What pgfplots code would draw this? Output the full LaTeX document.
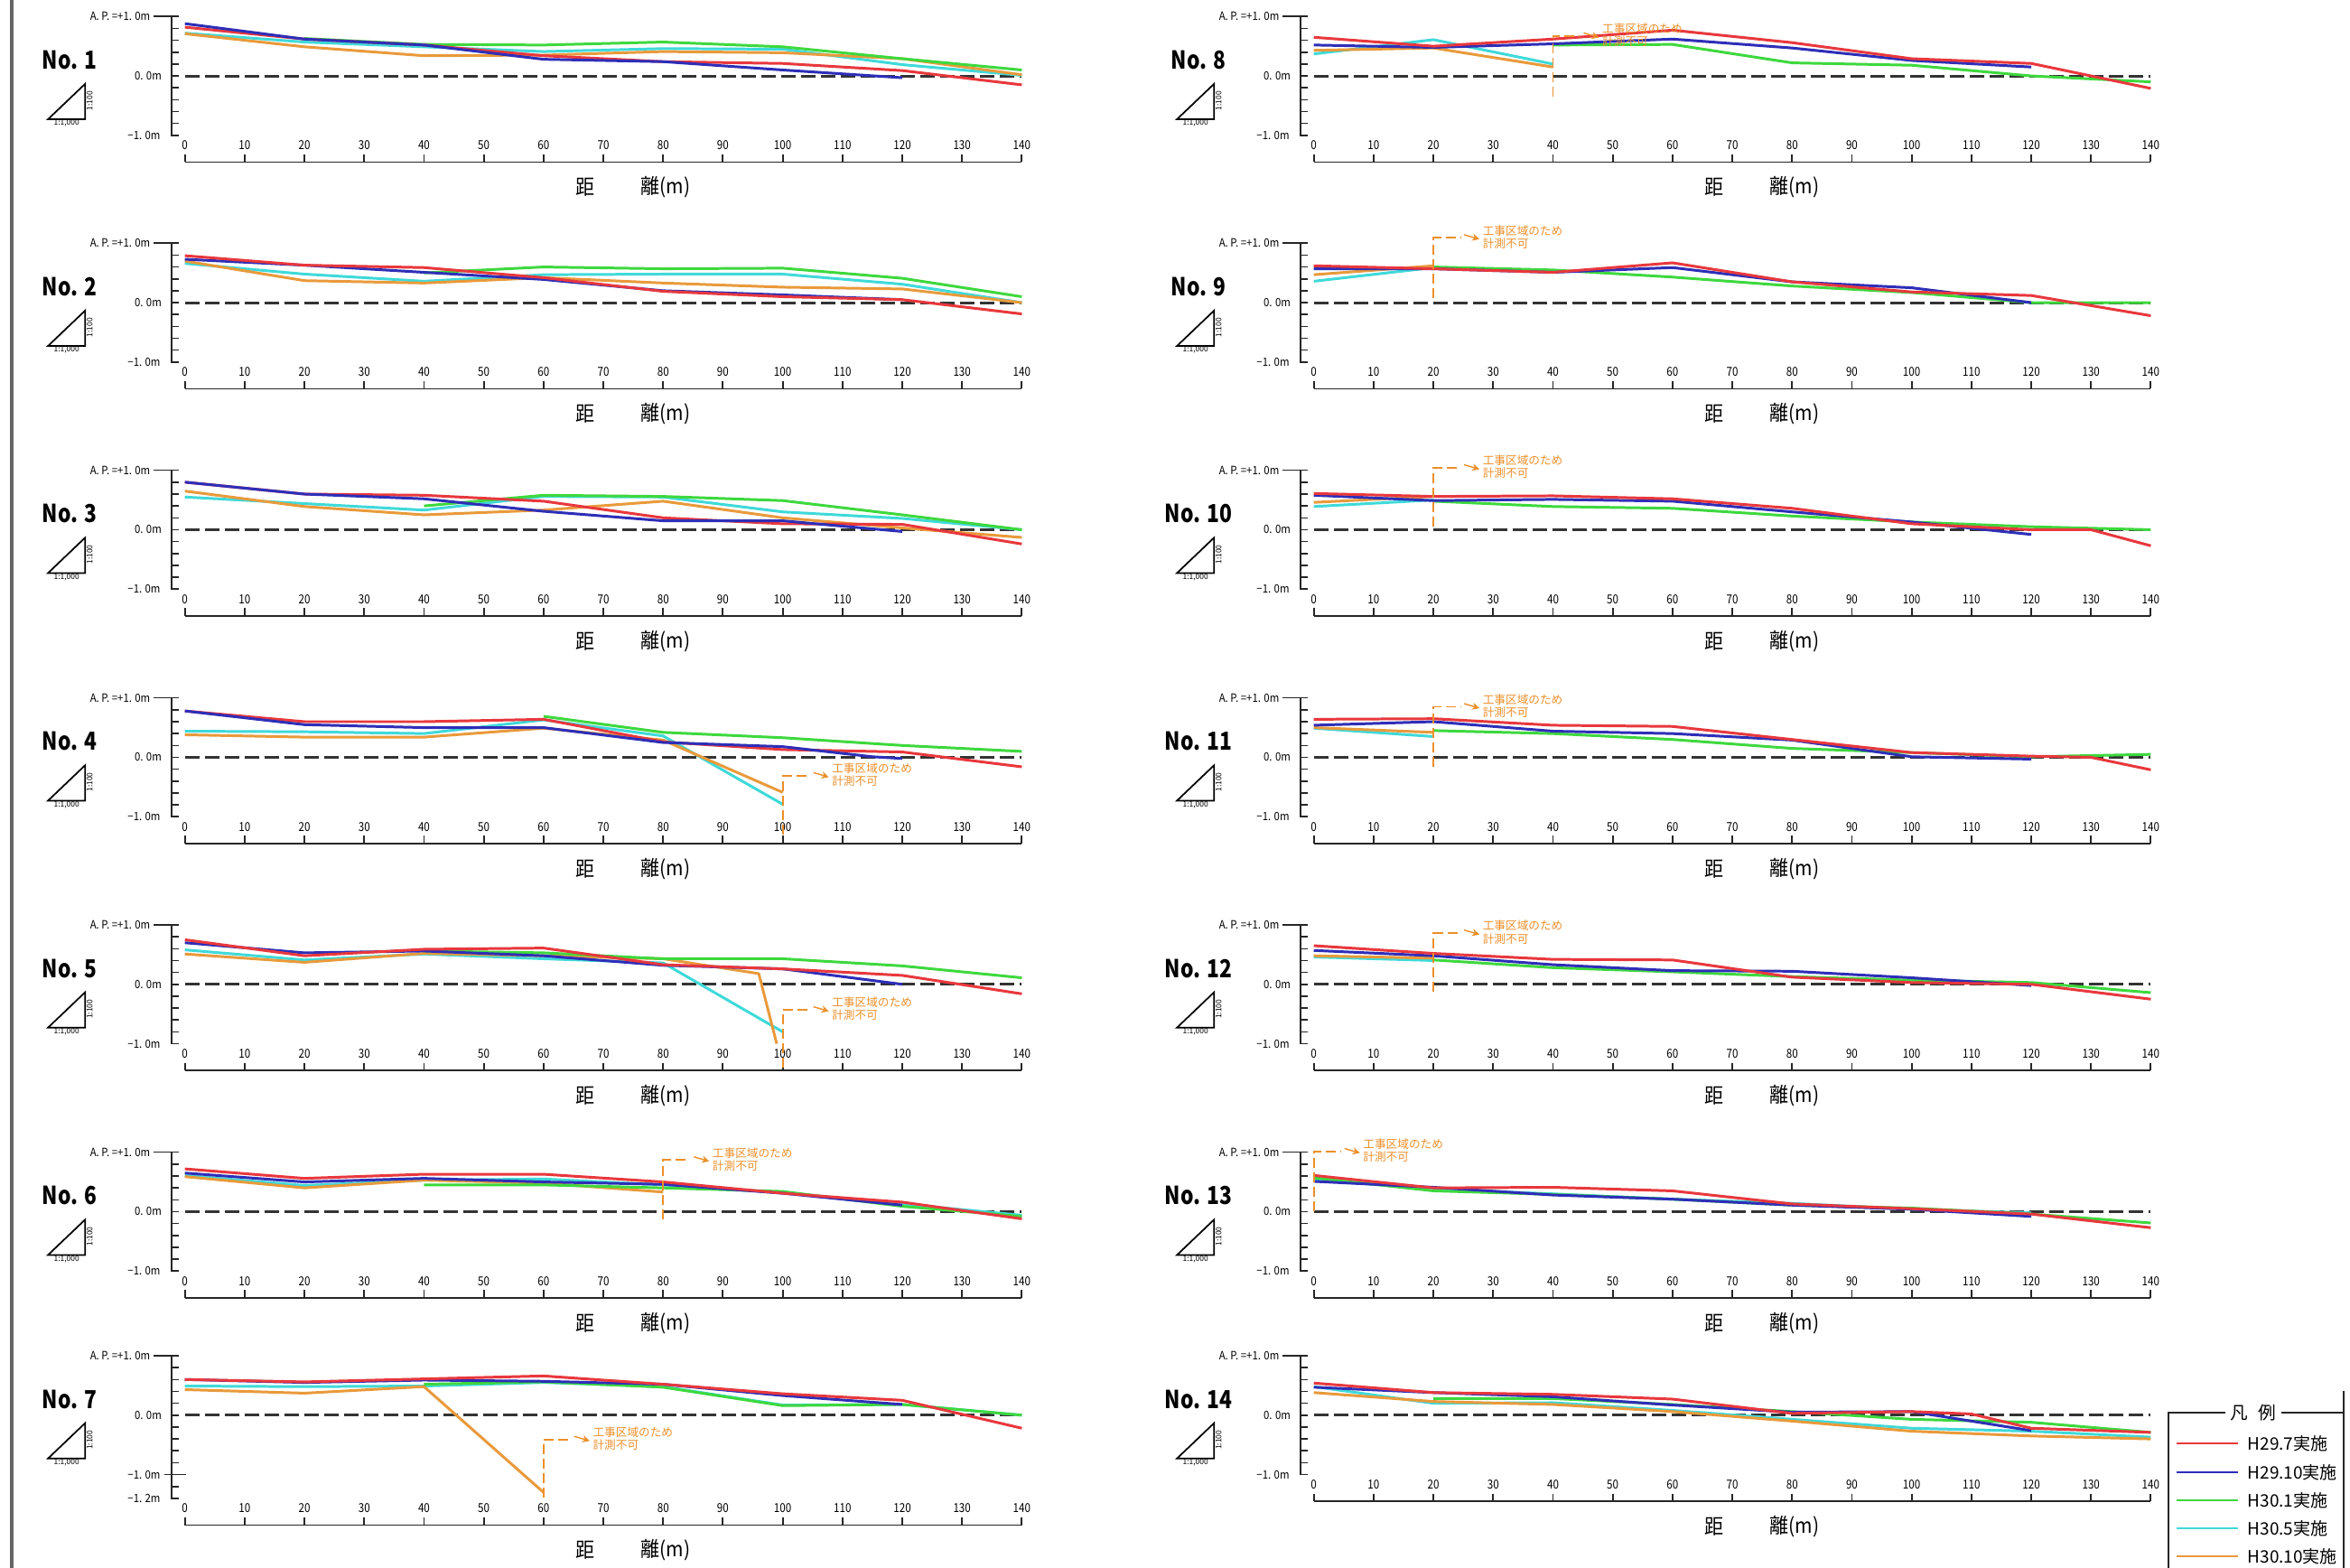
\documentclass[border=0pt]{standalone}
\usepackage{fontspec}
\setmainfont{Noto Sans CJK JP}
\usepackage{pgfplots}
\pgfplotsset{compat=1.18}
\usetikzlibrary{arrows.meta}
\definecolor{cR}{HTML}{E8383D}
\definecolor{cB}{HTML}{2E2EB8}
\definecolor{cG}{HTML}{3ED83E}
\definecolor{cC}{HTML}{3FD9D9}
\definecolor{cO}{HTML}{E99A3B}
\definecolor{cA}{HTML}{EB8F2A}
\tikzset{
 axl/.style={black!85, line width=0.45pt},
 zl/.style={black!80, line width=0.85pt, dash pattern=on 1.6mm off 0.6mm},
 annl/.style={cA, line width=0.5pt, dash pattern=on 1.1mm off 0.5mm},
 anntext/.style={anchor=west, align=left, text=cA, font=\fontsize{3.6}{4.0}\selectfont, inner sep=0pt},
 ylab/.style={anchor=east, font=\fontsize{3.6}{4}\selectfont, inner sep=0.3mm, xscale=0.9},
 xlab/.style={font=\fontsize{3.9}{4.5}\selectfont, inner sep=0pt, xscale=0.85},
 xtit/.style={font=\fontsize{6.5}{7}\selectfont, inner sep=0pt, xscale=0.92},
 nolab/.style={font=\fontsize{7.8}{8}\selectfont\bfseries, inner sep=0pt, xscale=0.83},
 tri/.style={font=\fontsize{2.4}{2.6}\selectfont, inner sep=0pt}
}
\pgfplotsset{
 panel/.style={hide axis, scale only axis, width=9.267cm, xmin=0, xmax=140, ymax=1, clip=false, anchor=north west},
 std/.style={panel, ymin=-1.45, height=1.612cm},
 tall/.style={panel, ymin=-1.85, height=1.875cm},
 sR/.style={cR, line width=0.85pt, line join=round},
 sB/.style={cB, line width=0.85pt, line join=round},
 sG/.style={cG, line width=0.85pt, line join=round},
 sC/.style={cC, line width=0.85pt, line join=round},
 sO/.style={cO, line width=0.85pt, line join=round}
}
\newcommand{\common}[1]{%
 \node[nolab] at (axis cs:-19.3,0.27) {#1};
 \draw[black, line width=0.5pt] (axis cs:-22.9,-0.73) -- (axis cs:-16.7,-0.135) -- (axis cs:-16.7,-0.73) -- cycle;
 \node[tri] at (axis cs:-19.8,-0.80) {1:1,000};
 \node[tri, rotate=90] at (axis cs:-15.9,-0.42) {1:100};
 \draw[zl] (axis cs:0,0) -- (axis cs:140,0);
}
\newcommand{\yframeStd}{%
 \draw[axl] (axis cs:-5.3,1) -- (axis cs:-1,1);
 \draw[axl] (axis cs:-2.2,1) -- (axis cs:-2.2,-1) -- (axis cs:-1,-1);
 \pgfplotsinvokeforeach{-0.8,-0.6,-0.4,-0.2,0,0.2,0.4,0.6,0.8}{\draw[axl] (axis cs:-2.2,##1) -- (axis cs:-1,##1);}
 \node[ylab] at (axis cs:-5.3,1) {A. P. =+1. 0m};
 \node[ylab] at (axis cs:-3.4,0) {0. 0m};
 \node[ylab] at (axis cs:-3.6,-1) {−1. 0m};
}
\newcommand{\yframeTall}{%
 \draw[axl] (axis cs:-5.3,1) -- (axis cs:-1,1);
 \draw[axl] (axis cs:-2.2,1) -- (axis cs:-2.2,-1.4) -- (axis cs:-1,-1.4);
 \pgfplotsinvokeforeach{-1.2,-0.8,-0.6,-0.4,-0.2,0,0.2,0.4,0.6,0.8}{\draw[axl] (axis cs:-2.2,##1) -- (axis cs:-1,##1);}
 \draw[axl] (axis cs:-3.4,-1) -- (axis cs:0.2,-1);
 \node[ylab] at (axis cs:-5.3,1) {A. P. =+1. 0m};
 \node[ylab] at (axis cs:-3.4,0) {0. 0m};
 \node[ylab] at (axis cs:-3.6,-1) {−1. 0m};
 \node[ylab] at (axis cs:-3.6,-1.4) {−1. 2m};
}
\newcommand{\xframe}[1]{%
 \draw[axl, line width=0.55pt] (axis cs:0,#1) -- (axis cs:140,#1);
 \pgfplotsinvokeforeach{0,10,20,30,40,50,60,70,80,90,100,110,120,130,140}{%
  \draw[axl, line width=0.55pt] (axis cs:##1,#1) -- ([yshift=0.85mm]axis cs:##1,#1);
  \node[xlab] at ([yshift=1.85mm]axis cs:##1,#1) {##1};}
 \node[xtit] at ([yshift=-2.8mm]axis cs:67.0,#1) {距};
 \node[xtit, anchor=west] at ([yshift=-2.8mm]axis cs:76.2,#1) {離(m)};
}
\newcommand{\annot}[3]{%
 \draw[annl] (axis cs:#1,#3) -- (axis cs:#1,#2) -- ([xshift=3mm]axis cs:#1,#2);
 \draw[cA, line width=0.4pt, -{Stealth[length=0.8mm,width=0.8mm]}] ([xshift=3.4mm,yshift=0.35mm]axis cs:#1,#2) -- ([xshift=5.1mm,yshift=-0.15mm]axis cs:#1,#2);
 \node[anntext] at ([xshift=5.4mm,yshift=0.1mm]axis cs:#1,#2) {工事区域のため\\計測不可};
}
\begin{document}
\begin{tikzpicture}
\path[use as bounding box] (0,0) rectangle (26.02,17.36);
\fill[white] (0,0) rectangle (26.02,17.36);
\draw[black!60, line width=1pt] (0.13,0) -- (0.13,17.36);

% ---------- No. 1
\begin{axis}[std, at={(2.047cm,17.177cm)}]
\yframeStd \xframe{-1.45} \common{No. 1}
\addplot[sC] coordinates {(0,0.72)(20,0.57)(40,0.49)(60,0.41)(80,0.46)(100,0.45)(120,0.19)(140,0.01)};
\addplot[sO] coordinates {(0,0.71)(20,0.49)(40,0.34)(60,0.35)(80,0.41)(100,0.39)(120,0.29)(140,0.02)};
\addplot[sG] coordinates {(20,0.63)(40,0.53)(60,0.52)(80,0.57)(100,0.49)(120,0.29)(140,0.10)};
\addplot[sR] coordinates {(0,0.82)(20,0.62)(40,0.52)(60,0.34)(80,0.24)(100,0.21)(120,0.09)(140,-0.15)};
\addplot[sB] coordinates {(0,0.88)(20,0.62)(40,0.52)(60,0.28)(80,0.24)(100,0.10)(120,-0.03)};
\end{axis}

% ---------- No. 2
\begin{axis}[std, at={(2.047cm,14.667cm)}]
\yframeStd \xframe{-1.45} \common{No. 2}
\addplot[sC] coordinates {(0,0.66)(20,0.48)(40,0.36)(60,0.47)(80,0.48)(100,0.48)(120,0.31)(140,0.0)};
\addplot[sO] coordinates {(0,0.70)(20,0.37)(40,0.33)(60,0.42)(80,0.33)(100,0.26)(120,0.23)(140,0.0)};
\addplot[sG] coordinates {(40,0.50)(60,0.60)(80,0.57)(100,0.58)(120,0.41)(140,0.10)};
\addplot[sB] coordinates {(0,0.73)(20,0.63)(40,0.51)(60,0.39)(80,0.20)(100,0.13)(120,0.05)};
\addplot[sR] coordinates {(0,0.79)(20,0.63)(40,0.59)(60,0.42)(80,0.19)(100,0.10)(120,0.05)(140,-0.19)};
\end{axis}

% ---------- No. 3
\begin{axis}[std, at={(2.047cm,12.153cm)}]
\yframeStd \xframe{-1.45} \common{No. 3}
\addplot[sC] coordinates {(0,0.55)(20,0.44)(40,0.33)(60,0.56)(80,0.55)(100,0.30)(120,0.19)(140,0.0)};
\addplot[sO] coordinates {(0,0.65)(20,0.39)(40,0.25)(60,0.33)(80,0.48)(100,0.20)(120,0.03)(140,-0.13)};
\addplot[sG] coordinates {(40,0.40)(60,0.58)(80,0.56)(100,0.49)(120,0.25)(140,0.0)};
\addplot[sR] coordinates {(0,0.80)(20,0.60)(40,0.58)(60,0.48)(80,0.20)(100,0.10)(120,0.09)(140,-0.24)};
\addplot[sB] coordinates {(0,0.80)(20,0.60)(40,0.52)(60,0.31)(80,0.15)(100,0.15)(120,-0.03)};
\end{axis}

% ---------- No. 4
\begin{axis}[std, at={(2.047cm,9.633cm)}]
\yframeStd \xframe{-1.45} \common{No. 4}
\addplot[sC] coordinates {(0,0.44)(20,0.43)(40,0.40)(60,0.63)(80,0.36)(100,-0.79)};
\addplot[sO] coordinates {(0,0.38)(20,0.34)(40,0.34)(60,0.49)(80,0.29)(100,-0.59)};
\addplot[sG] coordinates {(60,0.69)(80,0.42)(100,0.33)(120,0.20)(140,0.10)};
\addplot[sR] coordinates {(0,0.78)(20,0.60)(40,0.60)(60,0.64)(80,0.26)(100,0.13)(120,0.09)(140,-0.16)};
\addplot[sB] coordinates {(0,0.78)(20,0.55)(40,0.50)(60,0.50)(80,0.25)(100,0.18)(115,0.01)(120,-0.02)};
\annot{100}{-0.31}{-1.3}
\end{axis}

% ---------- No. 5
\begin{axis}[std, at={(2.047cm,7.120cm)}]
\yframeStd \xframe{-1.45} \common{No. 5}
\addplot[sC] coordinates {(0,0.58)(20,0.41)(40,0.51)(60,0.43)(80,0.36)(100,-0.80)};
\addplot[sO] coordinates {(0,0.51)(20,0.37)(40,0.52)(60,0.48)(80,0.43)(96,0.18)(99,-1.0)};
\addplot[sG] coordinates {(40,0.56)(60,0.53)(80,0.43)(100,0.43)(120,0.31)(140,0.11)};
\addplot[sB] coordinates {(0,0.70)(20,0.53)(40,0.56)(60,0.48)(80,0.32)(100,0.26)(120,0.0)};
\addplot[sR] coordinates {(0,0.75)(20,0.48)(40,0.59)(60,0.61)(80,0.33)(100,0.26)(120,0.15)(140,-0.16)};
\annot{100}{-0.43}{-1.4}
\end{axis}

% ---------- No. 6
\begin{axis}[std, at={(2.047cm,4.603cm)}]
\yframeStd \xframe{-1.45} \common{No. 6}
\addplot[sC] coordinates {(0,0.61)(20,0.44)(40,0.53)(60,0.55)(80,0.45)(100,0.32)(120,0.13)(140,-0.06)};
\addplot[sO] coordinates {(0,0.59)(20,0.40)(40,0.53)(60,0.48)(80,0.33)};
\addplot[sG] coordinates {(40,0.45)(60,0.45)(80,0.40)(100,0.34)(120,0.09)(140,-0.08)};
\addplot[sB] coordinates {(0,0.65)(20,0.50)(40,0.56)(60,0.50)(80,0.46)(100,0.31)(120,0.11)};
\addplot[sR] coordinates {(0,0.72)(20,0.56)(40,0.63)(60,0.63)(80,0.50)(100,0.31)(120,0.16)(140,-0.12)};
\annot{80}{0.87}{-0.13}
\end{axis}

% ---------- No. 7
\begin{axis}[tall, at={(2.047cm,2.350cm)}]
\yframeTall \xframe{-1.85} \common{No. 7}
\addplot[sC] coordinates {(0,0.49)(20,0.48)(40,0.49)(60,0.55)(80,0.48)(100,0.17)(120,0.18)(140,0.0)};
\addplot[sO] coordinates {(0,0.43)(20,0.37)(40,0.48)(60,-1.30)};
\addplot[sG] coordinates {(40,0.52)(60,0.56)(80,0.47)(100,0.16)(120,0.18)(140,0.0)};
\addplot[sB] coordinates {(0,0.60)(20,0.55)(40,0.59)(60,0.57)(80,0.52)(100,0.33)(120,0.18)};
\addplot[sR] coordinates {(0,0.60)(20,0.56)(40,0.61)(60,0.66)(80,0.52)(100,0.36)(120,0.25)(140,-0.22)};
\annot{60}{-0.41}{-1.38}
\end{axis}

% ---------- No. 8
\begin{axis}[std, at={(14.547cm,17.177cm)}]
\yframeStd \xframe{-1.45} \common{No. 8}
\addplot[sC] coordinates {(0,0.37)(20,0.61)(40,0.20)};
\addplot[sO] coordinates {(0,0.43)(20,0.47)(40,0.15)};
\addplot[sG] coordinates {(40,0.52)(60,0.53)(80,0.22)(100,0.18)(120,0.0)(140,-0.10)};
\addplot[sB] coordinates {(0,0.52)(20,0.48)(40,0.54)(60,0.62)(80,0.47)(100,0.26)(120,0.15)};
\addplot[sR] coordinates {(0,0.65)(20,0.50)(40,0.62)(60,0.77)(80,0.56)(100,0.29)(120,0.21)(140,-0.21)};
\annot{40}{0.67}{-0.35}
\end{axis}

% ---------- No. 9
\begin{axis}[std, at={(14.547cm,14.667cm)}]
\yframeStd \xframe{-1.45} \common{No. 9}
\addplot[sC] coordinates {(0,0.36)(20,0.59)};
\addplot[sO] coordinates {(0,0.47)(20,0.62)};
\addplot[sG] coordinates {(20,0.60)(40,0.55)(60,0.43)(80,0.28)(100,0.17)(120,0.0)(140,0.0)};
\addplot[sB] coordinates {(0,0.57)(20,0.57)(40,0.51)(60,0.59)(80,0.35)(100,0.25)(120,0.0)};
\addplot[sR] coordinates {(0,0.62)(20,0.57)(40,0.51)(60,0.67)(80,0.35)(100,0.18)(120,0.12)(140,-0.22)};
\annot{20}{1.09}{0.08}
\end{axis}

% ---------- No. 10
\begin{axis}[std, at={(14.547cm,12.153cm)}]
\yframeStd \xframe{-1.45} \common{No. 10}
\addplot[sC] coordinates {(0,0.39)(20,0.50)};
\addplot[sO] coordinates {(0,0.46)(20,0.56)};
\addplot[sG] coordinates {(20,0.48)(40,0.39)(60,0.36)(80,0.23)(100,0.13)(120,0.05)(140,0.0)};
\addplot[sB] coordinates {(0,0.58)(20,0.49)(40,0.51)(60,0.48)(80,0.30)(100,0.13)(120,-0.08)};
\addplot[sR] coordinates {(0,0.61)(20,0.56)(40,0.57)(60,0.52)(80,0.36)(100,0.10)(120,0.0)(130,0.0)(140,-0.27)};
\annot{20}{1.04}{0.05}
\end{axis}

% ---------- No. 11
\begin{axis}[std, at={(14.547cm,9.633cm)}]
\yframeStd \xframe{-1.45} \common{No. 11}
\addplot[sC] coordinates {(0,0.49)(20,0.35)};
\addplot[sO] coordinates {(0,0.50)(20,0.42)};
\addplot[sG] coordinates {(20,0.45)(40,0.40)(60,0.30)(80,0.15)(100,0.08)(120,0.01)(140,0.05)};
\addplot[sB] coordinates {(0,0.54)(20,0.60)(40,0.44)(60,0.40)(80,0.29)(100,0.01)(120,-0.03)};
\addplot[sR] coordinates {(0,0.64)(20,0.65)(40,0.54)(60,0.52)(80,0.30)(100,0.08)(120,0.02)(130,0.0)(140,-0.21)};
\annot{20}{0.85}{-0.16}
\end{axis}

% ---------- No. 12
\begin{axis}[std, at={(14.547cm,7.120cm)}]
\yframeStd \xframe{-1.45} \common{No. 12}
\addplot[sC] coordinates {(0,0.46)(20,0.40)};
\addplot[sO] coordinates {(0,0.48)(20,0.44)};
\addplot[sG] coordinates {(20,0.41)(40,0.28)(60,0.21)(80,0.13)(100,0.07)(120,0.03)(140,-0.14)};
\addplot[sB] coordinates {(0,0.57)(20,0.48)(40,0.33)(60,0.23)(80,0.22)(100,0.11)(120,-0.02)};
\addplot[sR] coordinates {(0,0.65)(20,0.52)(40,0.42)(60,0.41)(80,0.12)(100,0.03)(120,0.0)(140,-0.25)};
\annot{20}{0.86}{-0.12}
\end{axis}

% ---------- No. 13
\begin{axis}[std, at={(14.547cm,4.603cm)}]
\yframeStd \xframe{-1.45} \common{No. 13}
\addplot[sC] coordinates {(0,0.54)(20,0.38)(40,0.30)(60,0.21)(80,0.14)(100,0.04)(120,-0.02)};
\addplot[sG] coordinates {(0,0.57)(20,0.35)(40,0.29)(60,0.21)(80,0.11)(100,0.06)(120,-0.04)(140,-0.19)};
\addplot[sB] coordinates {(0,0.51)(20,0.41)(40,0.28)(60,0.21)(80,0.11)(100,0.04)(120,-0.08)};
\addplot[sR] coordinates {(0,0.61)(20,0.40)(40,0.41)(60,0.35)(80,0.13)(100,0.05)(120,-0.04)(140,-0.27)};
\annot{0}{1.01}{0.0}
\end{axis}

% ---------- No. 14
\begin{axis}[std, at={(14.547cm,2.350cm)}]
\yframeStd \xframe{-1.45} \common{No. 14}
\addplot[sC] coordinates {(0,0.48)(20,0.20)(40,0.21)(60,0.08)(80,-0.07)(100,-0.22)(120,-0.27)(140,-0.37)};
\addplot[sO] coordinates {(0,0.38)(20,0.23)(40,0.18)(60,0.06)(80,-0.10)(100,-0.27)(120,-0.35)(140,-0.40)};
\addplot[sG] coordinates {(20,0.28)(40,0.28)(60,0.18)(80,0.06)(100,-0.07)(120,-0.12)(140,-0.29)};
\addplot[sB] coordinates {(0,0.47)(20,0.38)(40,0.31)(60,0.17)(80,0.05)(100,0.06)(120,-0.26)};
\addplot[sR] coordinates {(0,0.54)(20,0.38)(40,0.35)(60,0.27)(80,0.03)(100,0.06)(110,0.02)(120,-0.22)(140,-0.29)};
\end{axis}

% ---------- legend
\draw[black!85, line width=0.5pt] (24.01,0) -- (24.01,1.72) -- (25.95,1.72);
\draw[black!85, line width=0.5pt] (25.95,0) -- (25.95,1.96);
\node[fill=white, inner sep=0.5mm, font=\fontsize{5.6}{6}\selectfont] at (24.95,1.72) {凡\hspace{0.6em}例};
\foreach \yy/\cc/\tt in {1.38/cR/H29.7実施, 1.06/cB/H29.10実施, 0.75/cG/H30.1実施, 0.44/cC/H30.5実施, 0.13/cO/H30.10実施}{
 \draw[\cc, line width=0.8pt] (24.10,\yy) -- (24.78,\yy);
 \node[anchor=west, inner sep=0pt, font=\fontsize{5.4}{6}\selectfont] at (24.88,\yy) {\tt};
}
\end{tikzpicture}
\end{document}
